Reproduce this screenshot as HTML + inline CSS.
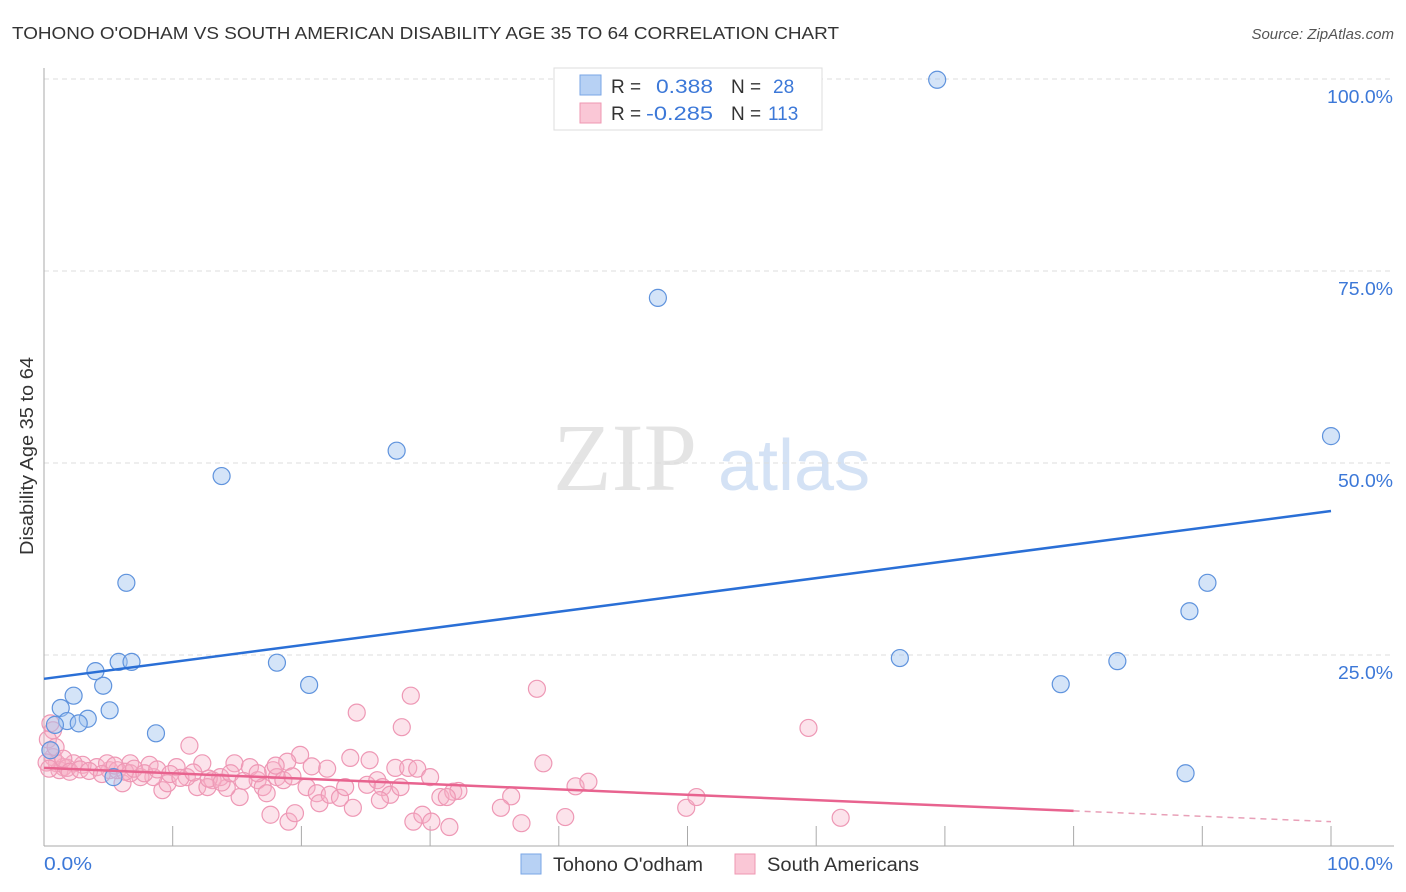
<!DOCTYPE html>
<html><head><meta charset="utf-8">
<style>
body{margin:0;background:#fff;font-family:"Liberation Sans",sans-serif;}
svg{display:block}
</style></head><body>
<svg id="chart" width="1406" height="892">
<text x="12" y="39" font-size="17.5" fill="#333" textLength="827" lengthAdjust="spacingAndGlyphs">TOHONO O'ODHAM VS SOUTH AMERICAN DISABILITY AGE 35 TO 64 CORRELATION CHART</text>
<text x="1394" y="39" font-size="15" fill="#555" font-style="italic" text-anchor="end">Source: ZipAtlas.com</text>
<text transform="translate(33,456) rotate(-90)" font-size="18" fill="#333" text-anchor="middle" textLength="198" lengthAdjust="spacingAndGlyphs">Disability Age 35 to 64</text>
<g>
<text x="553" y="490" font-size="96" font-family="Liberation Serif,serif" fill="#e4e4e4">ZIP</text>
<text x="718" y="490" font-size="72" fill="#d4e2f5">atlas</text>
</g>
<g id="grid"></g><g id="axes"></g><g id="pts"></g><g id="lines"></g>
<g>
<rect x="554" y="68" width="268" height="62" fill="#fff" stroke="#ddd"/>
<rect x="580" y="75" width="21" height="20" fill="#b7d1f4" stroke="#7aa6e6"/>
<text x="611" y="93" font-size="19" fill="#333">R = </text><text x="656" y="93" font-size="19" fill="#3c78d8" textLength="57" lengthAdjust="spacingAndGlyphs">0.388</text>
<text x="731" y="93" font-size="19" fill="#333">N = </text><text x="773" y="93" font-size="19" fill="#3c78d8">28</text>
<rect x="580" y="103" width="21" height="20" fill="#fac7d6" stroke="#ef97b2"/>
<text x="611" y="120" font-size="19" fill="#333">R = </text><text x="646" y="120" font-size="19" fill="#3c78d8" textLength="67" lengthAdjust="spacingAndGlyphs">-0.285</text>
<text x="731" y="120" font-size="19" fill="#333">N = </text><text x="768" y="120" font-size="19" fill="#3c78d8">113</text>
</g>
<g>
<rect x="521" y="854" width="20" height="20" fill="#b7d1f4" stroke="#7aa6e6"/>
<text x="553" y="871" font-size="19" fill="#333" textLength="150" lengthAdjust="spacingAndGlyphs">Tohono O'odham</text>
<rect x="735" y="854" width="20" height="20" fill="#fac7d6" stroke="#ef97b2"/>
<text x="767" y="871" font-size="19" fill="#333" textLength="152" lengthAdjust="spacingAndGlyphs">South Americans</text>
</g>
</svg>
<script>
const blueX=[69.4,47.7,27.4,100,13.8,6.4,90.4,89.0,5.8,6.8,18.1,66.5,83.4,4.0,4.6,20.6,79.0,2.3,1.3,5.1,3.4,1.8,2.7,0.85,8.7,88.7,5.4,0.5];
const blueY=[99.9,71.5,51.6,53.5,48.3,34.4,34.4,30.7,24.1,24.1,24.0,24.6,24.2,22.9,21.0,21.1,21.2,19.7,18.1,17.8,16.7,16.4,16.1,15.9,14.8,9.6,9.1,12.6];
const pinkX=[28.5,24.3,27.8,11.3,23.8,25.3,19.9,18.9,14.8,16.0,12.3,27.3,28.3,29.0,30.0,22.0,20.8,17.8,18.1,18.6,16.6,17.0,17.3,15.2,14.2,13.1,13.7,11.9,12.7,11.1,10.3,9.2,9.6,8.5,7.5,8.2,6.7,6.1,5.1,4.1,3.0,2.3,1.5,1.0,0.7,0.5,0.7,0.5,1.2,1.8,4.9,5.7,6.7,20.4,21.2,21.4,22.2,23.0,23.4,24.0,25.1,25.9,26.3,26.9,26.1,27.7,30.8,31.8,31.5,28.7,29.4,30.1,17.6,19.0,19.5,38.3,59.4,38.8,41.3,42.3,32.2,31.3,36.3,35.5,37.1,40.5,49.9,50.7,61.9,0.3,0.9,1.5,2.0,2.8,3.5,4.5,5.5,6.3,7.0,7.8,8.8,9.8,10.6,11.6,12.8,13.8,14.5,15.5,16.6,18.0,19.3,0.2,0.4];
const pinkY=[19.7,17.5,15.6,13.2,11.6,11.3,12.0,11.1,10.9,10.4,10.9,10.3,10.3,10.2,9.1,10.2,10.5,10.0,9.1,8.7,8.7,7.8,7.0,6.5,7.7,8.7,9.1,7.8,7.8,9.1,10.4,7.4,8.3,9.1,9.1,10.7,10.9,8.3,10.0,10.4,10.7,10.9,10.4,10.9,11.7,12.6,15.2,16.1,10.0,10.3,10.9,10.0,9.6,7.8,7.0,5.7,6.8,6.4,7.8,5.1,8.1,8.7,7.8,6.8,6.1,7.8,6.5,7.2,2.6,3.3,4.2,3.3,4.2,3.3,4.4,20.6,15.5,10.9,7.9,8.5,7.3,6.5,6.6,5.1,3.1,3.9,5.1,6.5,3.8,14.0,13.0,11.5,9.8,10.1,9.9,9.5,10.6,9.8,10.2,9.6,10.1,9.5,9.0,9.7,8.9,8.4,9.6,8.6,9.6,10.6,9.2,11.0,10.2];
const blueTrend=[21.9,43.75];
const pinkTrend=[10.3,3.3];
const yTicks=[25,50,75,100];
const yTickLabels=["25.0%","50.0%","75.0%","100.0%"];
const NS="http://www.w3.org/2000/svg";
const sx=v=>44+v*12.87, sy=v=>847-v*7.68;
function mk(tag,attrs,parent){const e=document.createElementNS(NS,tag);for(const k in attrs)e.setAttribute(k,attrs[k]);document.getElementById(parent).appendChild(e);return e;}
yTicks.forEach((t,i)=>{
 const g=mk('line',{x1:44,x2:1394,y1:sy(t),y2:sy(t),stroke:'#ddd','stroke-dasharray':'5,4'},'grid');
 
 
 const lab=yTickLabels[i];
 const l=mk('text',{x:1393,y:sy(t)+24,'font-size':18,fill:'#3c78d8','text-anchor':'end',textLength:lab.length*11,lengthAdjust:'spacingAndGlyphs'},'grid');
 l.textContent=lab;
 
 
});
const ax=mk('line',{x1:44,x2:44,y1:68,y2:846,stroke:'#aaa'},'axes');


const bx=mk('line',{x1:44,x2:1394,y1:846,y2:846,stroke:'#aaa'},'axes');


for(let i=1;i<=10;i++){const tk=mk('line',{x1:sx(i*10),x2:sx(i*10),y1:826,y2:846,stroke:'#aaa'},'axes');
 
 }
const x0=mk('text',{x:44,y:870,'font-size':18,fill:'#3c78d8',textLength:48,lengthAdjust:'spacingAndGlyphs'},'axes');x0.textContent='0.0%';


const x1=mk('text',{x:1393,y:870,'font-size':18,fill:'#3c78d8','text-anchor':'end',textLength:66,lengthAdjust:'spacingAndGlyphs'},'axes');x1.textContent='100.0%';


pinkX.forEach((v,i)=>{const c=mk('circle',{cx:sx(v),cy:sy(pinkY[i]),r:8.5,fill:'rgba(247,175,198,0.35)',stroke:'#ee98b5','stroke-width':1.2},'pts');
 
 });
blueX.forEach((v,i)=>{const c=mk('circle',{cx:sx(v),cy:sy(blueY[i]),r:8.5,fill:'rgba(160,195,240,0.45)',stroke:'#5f93dd','stroke-width':1.2},'pts');
 
 });
const bl=mk('line',{x1:sx(0),y1:sy(blueTrend[0]),x2:sx(100),y2:sy(blueTrend[1]),stroke:'#2a6fd6','stroke-width':2.5},'lines');


const pm=v=>pinkTrend[0]+(pinkTrend[1]-pinkTrend[0])*v/100;
const pl=mk('line',{x1:sx(0),y1:sy(pm(0)),x2:sx(80),y2:sy(pm(80)),stroke:'#e8638f','stroke-width':2.5},'lines');


const pd=mk('line',{x1:sx(80),y1:sy(pm(80)),x2:sx(100),y2:sy(pm(100)),stroke:'#e8a0b8','stroke-width':1.5,'stroke-dasharray':'6,5'},'lines');


</script>
</body></html>
